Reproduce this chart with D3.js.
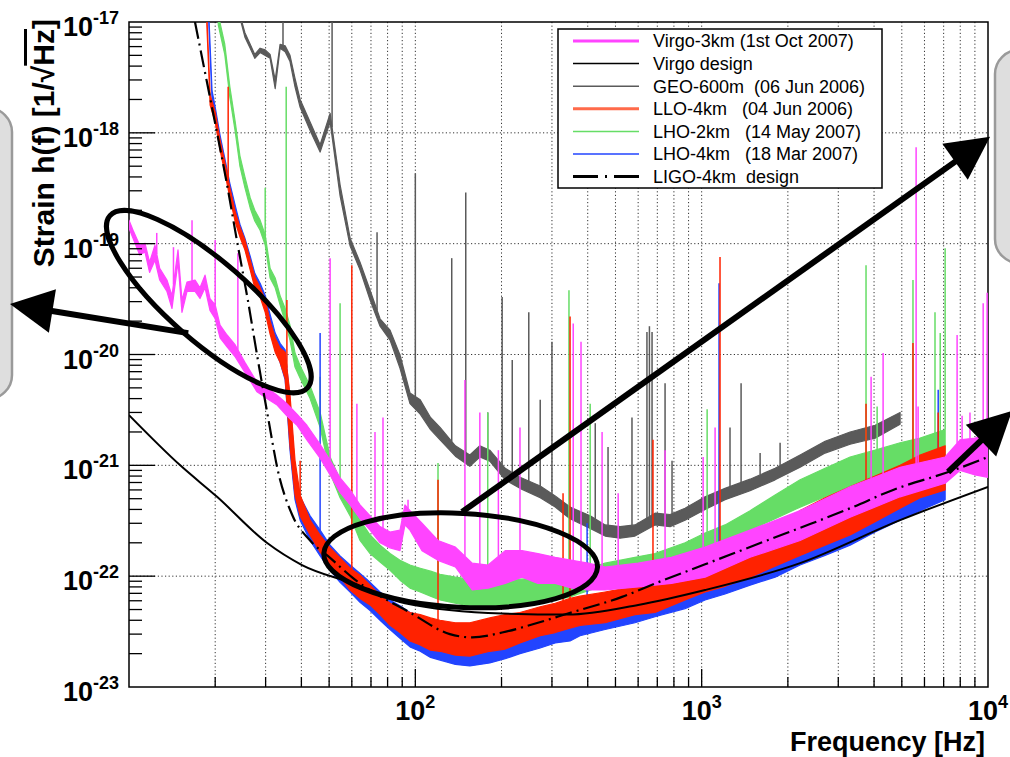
<!DOCTYPE html>
<html>
<head>
<meta charset="utf-8">
<script src="https://cdn.jsdelivr.net/npm/d3@7"></script>
<style>
  body { margin: 0; background: #fff; }
  svg { display: block; font-family: "Liberation Sans", Arial, Helvetica, sans-serif; }
</style>
</head>
<body>
<svg id="chart" width="1010" height="757"></svg>
<script>
/* ------------------ data (frequency Hz, strain 1/sqrt(Hz)) ------------------ */

// noise bands: [f, upper strain, lower strain]
const geoBand = [
  [24.4,1.16e-17,1.09e-17],[25.4,8.0e-18,7.3e-18],[26.5,6.3e-18,5.8e-18],[27.5,5.1e-18,4.7e-18],
  [28.7,5.8e-18,5.3e-18],[29.9,5.6e-18,5.0e-18],[31.1,5.1e-18,4.7e-18],[32.4,3.0e-18,2.5e-18],
  [33.7,6.3e-18,5.8e-18],[35.1,6.1e-18,5.4e-18],[36.5,5.0e-18,4.4e-18],[38.0,3.1e-18,2.6e-18],
  [39.6,2.0e-18,1.7e-18],[42.9,1.25e-18,1.05e-18],[46.5,7.8e-19,6.7e-19],[50.4,1.5e-18,1.25e-18],
  [54.6,3.4e-19,2.7e-19],[59.2,1.12e-19,9.5e-20],[64.1,6.8e-20,5.8e-20],[69.5,3.8e-20,3.1e-20],
  [75.3,2.1e-20,1.8e-20],[81.6,1.66e-20,1.35e-20],[88.4,9.9e-21,7.5e-21],[95.8,4.5e-21,3.6e-21],
  [104,3.9e-21,2.9e-21],[113,2.7e-21,2.1e-21],[122,2.2e-21,1.7e-21],[138,1.5e-21,1.21e-21],
  [155,1.24e-21,9.8e-22],[168,1.5e-21,1.19e-21],[182,1.37e-21,1.09e-21],[206,9.4e-22,7.4e-22],
  [232,7.8e-22,6.2e-22],[273,6.5e-22,5.1e-22],[308,5.3e-22,4.2e-22],[347,4.2e-22,3.3e-22],
  [408,3.5e-22,2.7e-22],[460,2.9e-22,2.3e-22],[519,2.8e-22,2.2e-22],[585,2.9e-22,2.3e-22],
  [687,3.7e-22,2.9e-22],[776,3.6e-22,2.8e-22],[875,4.1e-22,3.2e-22],[1028,5.2e-22,4.0e-22],
  [1207,6.2e-22,4.9e-22],[1476,7.5e-22,5.9e-22],[1805,9.4e-22,7.4e-22],[2207,1.24e-21,9.6e-22],
  [2698,1.65e-21,1.29e-21],[3299,2.0e-21,1.55e-21],[4035,2.3e-21,1.76e-21],[4932,3.0e-21,2.35e-21]
];

const lho2Band = [
  [20.5,1.16e-17,9.4e-18],[21.6,6.3e-18,5.1e-18],[22.5,2.6e-18,2.1e-18],[23.5,1.25e-18,1.02e-18],
  [24.4,6.2e-19,5.0e-19],[25.4,4.0e-19,3.2e-19],[26.5,2.6e-19,2.1e-19],[27.5,2.0e-19,1.6e-19],
  [28.7,1.63e-19,1.32e-19],[29.9,1.2e-19,9.7e-20],[31.1,6.0e-20,4.9e-20],[32.4,4.9e-20,4.0e-20],
  [33.7,3.4e-20,2.8e-20],[35.1,2.6e-20,1.96e-20],[36.5,1.84e-20,1.35e-20],[38.0,1.03e-20,7.7e-21],
  [39.6,7.9e-21,6.1e-21],[42.9,5.2e-21,4.0e-21],[46.5,3.0e-21,2.2e-21],[50.4,1.19e-21,8.5e-22],
  [54.6,7.4e-22,5.1e-22],[59.2,5.2e-22,3.5e-22],[64.1,3.2e-22,2.1e-22],[69.5,2.35e-22,1.6e-22],
  [75.3,1.9e-22,1.34e-22],[81.6,1.6e-22,1.13e-22],[88.4,1.39e-22,9.2e-23],[95.8,1.26e-22,7.8e-23],
  [104,1.18e-22,7.2e-23],[113,1.11e-22,6.6e-23],[122,1.04e-22,6.1e-23],[138,9.8e-23,5.7e-23],
  [155,9.4e-23,5.4e-23],[182,9.2e-23,5.3e-23],[206,9.2e-23,5.3e-23],[232,9.4e-23,5.5e-23],
  [273,9.6e-23,5.8e-23],[308,9.8e-23,6.1e-23],[347,1.04e-22,6.5e-23],[376,1.11e-22,7.0e-23],
  [460,1.31e-22,8.3e-23],[585,1.48e-22,9.2e-23],[687,1.6e-22,9.8e-23],[875,2.0e-22,1.26e-22],
  [1028,2.45e-22,1.6e-22],[1207,2.9e-22,1.9e-22],[1476,3.9e-22,2.6e-22],[1805,5.4e-22,3.3e-22],
  [2207,7.4e-22,4.2e-22],[2698,9.4e-22,5.2e-22],[3299,1.19e-21,6.4e-22],[4035,1.37e-21,7.7e-22],
  [4932,1.6e-21,9.0e-22],[5794,1.76e-21,1.0e-21],[7085,2.1e-21,1.19e-21]
];

const lho4Band = [
  [19.0,1.16e-17,9.4e-18],[19.5,2.4e-18,2.0e-18],[20.0,1.71e-18,1.39e-18],[20.8,9.5e-19,7.8e-19],
  [21.6,5.9e-19,4.8e-19],[22.5,3.5e-19,2.9e-19],[23.5,2.2e-19,1.78e-19],[24.4,1.5e-19,1.22e-19],
  [25.4,1.12e-19,9.1e-20],[26.5,7.7e-20,6.3e-20],[27.5,5.4e-20,4.4e-20],[28.7,4.4e-20,3.6e-20],
  [29.9,3.4e-20,2.6e-20],[31.1,2.3e-20,1.66e-20],[32.4,1.56e-20,1.1e-20],[33.7,1.26e-20,8.5e-21],
  [35.1,1.1e-20,5.9e-21],[36.5,3.9e-21,1.37e-21],[38.0,9.0e-22,4.9e-22],[39.6,5.2e-22,3.2e-22],
  [42.9,3.5e-22,2.1e-22],[46.5,2.6e-22,1.52e-22],[50.4,1.9e-22,1.13e-22],[54.6,1.52e-22,8.8e-23],
  [59.2,1.26e-22,7.2e-23],[64.1,1.06e-22,5.8e-23],[69.5,8.8e-23,4.9e-23],[75.3,7.2e-23,4.0e-23],
  [81.6,6.1e-23,3.3e-23],[88.4,5.4e-23,2.75e-23],[95.8,4.7e-23,2.3e-23],[104,4.4e-23,2.1e-23],
  [113,4.0e-23,1.85e-23],[122,3.8e-23,1.75e-23],[138,3.6e-23,1.6e-23],[155,3.5e-23,1.55e-23],
  [182,3.7e-23,1.65e-23],[206,4.0e-23,1.8e-23],[232,4.4e-23,2.0e-23],[273,4.7e-23,2.25e-23],
  [308,5.1e-23,2.5e-23],[347,5.6e-23,2.6e-23],[376,6.1e-23,2.9e-23],[460,6.6e-23,3.3e-23],
  [585,7.5e-23,3.8e-23],[687,8.1e-23,4.3e-23],[875,9.6e-23,5.1e-23],[1028,1.09e-22,6.1e-23],
  [1207,1.26e-22,6.9e-23],[1476,1.54e-22,8.3e-23],[1805,1.9e-22,9.8e-23],[2207,2.45e-22,1.26e-22],
  [2698,3.1e-22,1.54e-22],[3299,3.8e-22,1.9e-22],[4035,4.7e-22,2.5e-22],[4932,6.0e-22,3.2e-22],
  [5794,7.1e-22,3.9e-22],[7085,9.4e-22,4.9e-22]
];

const lloBand = [
  [18.7,1.16e-17,9.4e-18],[19.2,2.2e-18,1.78e-18],[20.0,1.54e-18,1.25e-18],[20.8,8.6e-19,7.0e-19],
  [21.6,5.45e-19,4.4e-19],[22.5,3.2e-19,2.6e-19],[23.5,1.93e-19,1.57e-19],[24.4,1.41e-19,1.15e-19],
  [25.4,1.08e-19,8.8e-20],[26.5,7.1e-20,5.8e-20],[27.5,5.0e-20,4.0e-20],[28.7,4.0e-20,3.3e-20],
  [29.9,3.1e-20,2.4e-20],[31.1,2.0e-20,1.53e-20],[32.4,1.41e-20,1.05e-20],[33.7,1.14e-20,8.5e-21],
  [35.1,1.05e-20,6.1e-21],[36.5,4.3e-21,1.5e-21],[38.0,1.11e-21,5.4e-22],[39.6,5.4e-22,3.5e-22],
  [42.9,3.2e-22,2.35e-22],[46.5,2.35e-22,1.65e-22],[50.4,1.8e-22,1.26e-22],[54.6,1.46e-22,9.8e-23],
  [59.2,1.18e-22,7.5e-23],[64.1,1.02e-22,6.3e-23],[69.5,8.3e-23,5.5e-23],[75.3,6.7e-23,4.5e-23],
  [81.6,5.7e-23,3.6e-23],[88.4,5.1e-23,3.1e-23],[95.8,4.7e-23,2.6e-23],[104,4.5e-23,2.4e-23],
  [113,4.2e-23,2.15e-23],[122,4.0e-23,2.1e-23],[138,3.8e-23,1.94e-23],[155,3.8e-23,1.9e-23],
  [182,4.2e-23,2.1e-23],[206,4.5e-23,2.2e-23],[232,4.7e-23,2.5e-23],[273,5.3e-23,2.9e-23],
  [308,5.7e-23,3.1e-23],[347,6.3e-23,3.4e-23],[376,6.6e-23,3.6e-23],[460,7.2e-23,3.8e-23],
  [585,8.1e-23,4.5e-23],[687,8.6e-23,4.7e-23],[875,1.09e-22,6.1e-23],[1028,1.34e-22,7.2e-23],
  [1207,1.6e-22,8.1e-23],[1476,2.1e-22,9.8e-23],[1805,2.9e-22,1.23e-22],[2207,3.9e-22,1.54e-22],
  [2698,5.1e-22,1.9e-22],[3299,6.4e-22,2.35e-22],[4035,8.0e-22,3.1e-22],[4932,1.0e-21,4.1e-22],
  [5794,1.24e-21,5.1e-22],[7085,1.5e-21,6.0e-22]
];

const virgoBand = [
  [10.0,1.63e-19,1.38e-19],[10.33,1.32e-19,1.12e-19],[10.9,9.7e-20,7.9e-20],[11.37,1.01e-19,8.4e-20],
  [11.8,6.8e-20,5.5e-20],[12.32,9.7e-20,7.1e-20],[12.8,6.0e-20,4.7e-20],[13.57,4.7e-20,3.7e-20],
  [14.13,3.4e-20,2.6e-20],[14.83,8.8e-20,6.8e-20],[15.31,3.1e-20,2.4e-20],[15.94,4.5e-20,3.7e-20],
  [17.01,4.7e-20,3.7e-20],[17.7,4.0e-20,3.2e-20],[18.43,5.2e-20,4.0e-20],[19.18,3.2e-20,2.5e-20],
  [20.0,2.8e-20,2.1e-20],[20.8,1.84e-20,1.41e-20],[22.0,1.5e-20,1.17e-20],[23.5,1.22e-20,9.5e-21],
  [25.4,8.5e-21,6.9e-21],[28.0,5.6e-21,4.6e-21],[30.3,5.0e-21,4.0e-21],[32.9,4.3e-21,3.5e-21],
  [35.6,3.6e-21,2.8e-21],[38.6,2.9e-21,2.3e-21],[41.8,2.3e-21,1.7e-21],[46.5,1.55e-21,1.16e-21],
  [50.4,1.11e-21,8.2e-22],[54.6,7.7e-22,5.7e-22],[59.2,6.0e-22,4.4e-22],[64.1,4.4e-22,3.3e-22],
  [69.5,3.5e-22,2.6e-22],[75.3,2.8e-22,2.0e-22],[81.6,2.5e-22,1.8e-22],[88.4,2.6e-22,1.7e-22],
  [92.0,4.4e-22,2.9e-22],[95.8,3.9e-22,2.6e-22],[105.5,3.0e-22,1.7e-22],[120,2.1e-22,1.39e-22],
  [138,1.83e-22,1.21e-22],[158,1.31e-22,7.5e-23],[179.5,1.26e-22,7.8e-23],[206,1.7e-22,8.6e-23],
  [236,1.7e-22,9.8e-23],[268,1.6e-22,8.6e-23],[308,1.48e-22,8.6e-23],[353,1.39e-22,7.8e-23],
  [401,1.31e-22,7.5e-23],[460,1.21e-22,7.5e-23],[600,1.31e-22,8.0e-23],[784,1.48e-22,8.6e-23],
  [1028,1.83e-22,9.8e-23],[1476,2.6e-22,1.48e-22],[2207,3.9e-22,2.1e-22],[3299,6.4e-22,3.4e-22],
  [4932,9.6e-22,5.2e-22],[7085,1.19e-21,6.9e-22],[7991,1.7e-21,9.0e-22],[9015,1.76e-21,8.2e-22],
  [10000,1.95e-21,7.8e-22]
];

// spectral lines: [f, peak strain]
const geoLines = [
  [34.5,1e-17],[51.2,1e-17],[73.5,1.27e-19],[100,4.3e-19],[134,7.4e-20],[150,2.9e-19],[179,3.0e-21],
  [201,3.3e-20],[218,8.9e-21],[249,2.4e-20],[273,3.9e-21],[300,1.3e-20],[425,2.4e-21],[471,1.46e-21],
  [571,2.7e-21],[644,1.6e-20],[657,1.8e-20],[671,1.6e-20],[745,5.5e-21],[788,1.1e-21],[1256,2.2e-21],
  [1373,5.5e-21],[1600,1.29e-21],[1879,1.6e-21]
];
const lho2Lines = [
  [29.9,3.2e-19],[35.4,2.6e-18],[46.5,6.3e-21],[54.6,2.9e-20],[120,1.05e-21],[179,3.0e-21],[344,3.8e-20],
  [408,3.6e-21],[1045,3.2e-21],[3750,6.4e-20],[4100,3.4e-21],[5470,4.7e-20],[6530,2.4e-20],[6810,1.56e-20],
  [7085,9.1e-20]
];
const lho4Lines = [[46.5,1.56e-20],[398,3.0e-22],[1150,4.4e-20],[6700,4.8e-21]];
const lloLines = [
  [22.2,2.6e-18],[35.6,3.1e-20],[39.6,1.1e-21],[60,6.4e-20],[120,7.4e-22],[328,5.6e-22],[347,2.2e-20],
  [676,1.7e-21],[1159,7.6e-20],[3750,3.6e-21],[5470,1.27e-20],[6700,3.0e-21]
];
const virgoLines = [
  [12.5,1.25e-19],[14.3,9.3e-20],[16.6,1.63e-19],[20.0,1.08e-19],[24.0,8.2e-20],[50.4,7.4e-20],
  [62.5,3.6e-21],[72.3,2.0e-21],[77.1,2.7e-21],[94.3,4.9e-22],[149,5.9e-21],[168,3.0e-21],[195,1.37e-21],
  [232,2.2e-21],[356,1.9e-20],[379,1.3e-20],[449,2.0e-21],[511,5.6e-22],[745,1.37e-21],[1012,1.19e-21],
  [1114,2.2e-21],[3906,6.3e-21],[4302,1.03e-20],[5610,7.4e-19],[5700,3.4e-21],[7800,1.5e-20],
  [8120,2.8e-21],[8650,3.0e-21],[9620,2.9e-20],[9930,3.6e-20]
];

// design curves: [f, strain]
const virgoDesign = [
  [10,2.84e-21],[15.1,1.0e-21],[20.3,5.2e-22],[30.3,2.0e-22],[40.2,1.26e-22],[60.6,8.6e-23],[92,5.7e-23],
  [201,4.6e-23],[341,4.5e-23],[600,5.5e-23],[1028,7.5e-23],[2207,1.31e-22],[4932,3.2e-22],[10000,6.4e-22]
];
const ligoDesign = [
  [17.0,1.0e-17],[18.7,2.9e-18],[20.3,1.0e-18],[22.0,3.4e-19],[23.8,1.08e-19],[26.0,3.1e-20],[28.2,8.9e-21],
  [30.6,2.7e-21],[33.1,9.0e-22],[37.1,3.6e-22],[42.9,2.1e-22],[50.4,1.46e-22],[60.6,9.6e-23],[95.8,4.7e-23],
  [132,3.0e-23],[158,2.8e-23],[201,3.1e-23],[268,3.8e-23],[341,4.6e-23],[527,6.5e-23],[704,8.8e-23],
  [1028,1.28e-22],[1692,2.1e-22],[2391,2.95e-22],[3299,4.1e-22],[4662,6.0e-22],[7551,9.0e-22],[10000,1.19e-21]
];

const legendNames = [
  "Virgo-3km (1st Oct 2007)", "Virgo design", "GEO-600m  (06 Jun 2006)", "LLO-4km   (04 Jun 2006)",
  "LHO-2km   (14 May 2007)", "LHO-4km   (18 Mar 2007)", "LIGO-4km  design"
];
const xLabelExps = [["2",100],["3",1000],["4",10000]];
const yLabelExps = [["-17",1e-17],["-18",1e-18],["-19",1e-19],["-20",1e-20],["-21",1e-21],["-22",1e-22],["-23",1e-23]];

// annotation anchors in data space
const ellipses = [
  { f: 19.0, h: 3.0e-20, rx: 131, ry: 40, rot: 41 },
  { f: 144, h: 1.39e-22, rx: 137, ry: 47, rot: 3 }
];
const arrows = [
  { from: [16.1, 1.56e-20], to: [3.84, 2.85e-20] },
  { from: [145.6, 3.8e-22], to: [10170, 9.2e-19] },
  { from: [7256, 8.7e-22], to: [12130, 3.1e-21] }
];

/* ------------------ setup ------------------ */

const svg = d3.select("#chart");
const plot = { left: 129, right: 988, top: 22, bottom: 687 };

const x = d3.scaleLog().domain([10, 1e4]).range([plot.left, plot.right]);
const y = d3.scaleLog().domain([1e-23, 1e-17]).range([plot.bottom, plot.top]);

svg.append("defs").append("clipPath").attr("id", "clip")
  .append("rect")
  .attr("x", plot.left).attr("y", plot.top)
  .attr("width", plot.right - plot.left).attr("height", plot.bottom - plot.top);

const colors = {
  virgo: "#ff44ff", geo: "#5a5a5a", llo: "#ff2200", lho2: "#66dd66", lho4: "#2244ff"
};

/* ------------------ grid + frame ------------------ */

const xTicks = [];
[10, 100, 1000].forEach(d => { for (let k = 1; k < 10; k++) xTicks.push(d * k); });
const yDecades = [1e-23, 1e-22, 1e-21, 1e-20, 1e-19, 1e-18, 1e-17];
const yTicks = [];
yDecades.slice(0, -1).forEach(d => { for (let k = 1; k < 10; k++) yTicks.push(d * k); });

const grid = svg.append("g")
  .attr("stroke", "#333").attr("stroke-width", 1).attr("stroke-dasharray", "1.2,2.4");

grid.selectAll(".gx").data(xTicks.filter(v => v > 10)).join("line")
  .attr("x1", d => x(d)).attr("x2", d => x(d))
  .attr("y1", plot.top).attr("y2", plot.bottom);

grid.selectAll(".gy").data(yDecades.slice(1, -1)).join("line")
  .attr("x1", plot.left).attr("x2", plot.right)
  .attr("y1", d => y(d)).attr("y2", d => y(d));

svg.append("rect")
  .attr("x", plot.left).attr("y", plot.top)
  .attr("width", plot.right - plot.left).attr("height", plot.bottom - plot.top)
  .attr("fill", "none").attr("stroke", "#000").attr("stroke-width", 1.5);

/* ------------------ curves ------------------ */

const data = svg.append("g").attr("clip-path", "url(#clip)");

function topAt(band, f) {
  const i = d3.bisector(d => d[0]).left(band, f);
  if (i <= 0) return band[0][1];
  if (i >= band.length) return band[band.length - 1][1];
  const a = band[i - 1], b = band[i];
  const t = (Math.log(f) - Math.log(a[0])) / (Math.log(b[0]) - Math.log(a[0]));
  return Math.exp(Math.log(a[1]) + t * (Math.log(b[1]) - Math.log(a[1])));
}

function drawSeries(band, lines, color) {
  data.append("path").datum(band)
    .attr("d", d3.area().x(d => x(d[0])).y0(d => y(d[2])).y1(d => y(d[1])))
    .attr("fill", color).attr("stroke", color)
    .attr("stroke-width", 1.2).attr("stroke-linejoin", "round");

  data.append("g").selectAll("line").data(lines).join("line")
    .attr("x1", d => x(d[0])).attr("x2", d => x(d[0]))
    .attr("y1", d => y(topAt(band, d[0]))).attr("y2", d => y(d[1]))
    .attr("stroke", color).attr("stroke-width", 1.5);
}

drawSeries(geoBand, geoLines, colors.geo);
drawSeries(lho2Band, lho2Lines, colors.lho2);
drawSeries(lho4Band, lho4Lines, colors.lho4);
drawSeries(lloBand, lloLines, colors.llo);
drawSeries(virgoBand, virgoLines, colors.virgo);

const line = d3.line().x(d => x(d[0])).y(d => y(d[1])).curve(d3.curveMonotoneX);

data.append("path").datum(virgoDesign)
  .attr("d", line).attr("fill", "none")
  .attr("stroke", "#000").attr("stroke-width", 2);

data.append("path").datum(ligoDesign)
  .attr("d", line).attr("fill", "none")
  .attr("stroke", "#000").attr("stroke-width", 2.2)
  .attr("stroke-dasharray", "17,5,2,5");

/* ------------------ axes ------------------ */

const ticks = svg.append("g").attr("stroke", "#000").attr("stroke-width", 1.3);

ticks.selectAll(".ty").data(yTicks.filter(v => v > 1e-23)).join("line")
  .attr("x1", plot.left)
  .attr("x2", d => plot.left + (yDecades.includes(d) ? 26 : 13))
  .attr("y1", d => y(d)).attr("y2", d => y(d));

ticks.selectAll(".tx").data(xTicks.filter(v => v > 10)).join("line")
  .attr("x1", d => x(d)).attr("x2", d => x(d))
  .attr("y1", plot.bottom)
  .attr("y2", d => plot.bottom - ([100, 1000].includes(d) ? 18 : 10));

const labels = svg.append("g").attr("font-weight", "bold").attr("fill", "#000");

yLabelExps.forEach(([e, v]) => {
  const t = labels.append("text")
    .attr("x", 119).attr("y", y(v) + 14)
    .attr("text-anchor", "end").attr("font-size", 27);
  t.append("tspan").text("10");
  t.append("tspan").attr("font-size", 18).attr("dy", -12).text(e);
});

xLabelExps.forEach(([e, v]) => {
  const t = labels.append("text")
    .attr("x", x(v)).attr("y", 720)
    .attr("text-anchor", "middle").attr("font-size", 27);
  t.append("tspan").text("10");
  t.append("tspan").attr("font-size", 18).attr("dy", -12).text(e);
});

labels.append("text")
  .attr("x", 985).attr("y", 751)
  .attr("text-anchor", "end").attr("font-size", 27)
  .text("Frequency [Hz]");

const yt = labels.append("text")
  .attr("transform", "translate(54,19) rotate(-90)")
  .attr("text-anchor", "end").attr("font-size", 30);
yt.append("tspan").text("Strain h(f) [1/√");
yt.append("tspan").style("text-decoration", "overline").text("Hz");
yt.append("tspan").text("]");

/* ------------------ legend ------------------ */

const legendStyle = [
  { color: colors.virgo, w: 3 },
  { color: "#000", w: 1.5 },
  { color: colors.geo, w: 1.5 },
  { color: "#ff6a4a", w: 3 },
  { color: colors.lho2, w: 1.5 },
  { color: colors.lho4, w: 1.5 },
  { color: "#000", w: 3, dash: "25,7,2,7" }
];

const lg = svg.append("g");
lg.append("rect")
  .attr("x", 558).attr("y", 29).attr("width", 324).attr("height", 159)
  .attr("fill", "#fff").attr("stroke", "#000").attr("stroke-width", 1.5);

legendNames.forEach((name, i) => {
  const ry = 41 + i * 22.6;
  const s = legendStyle[i];
  lg.append("line")
    .attr("x1", 573).attr("x2", 639).attr("y1", ry).attr("y2", ry)
    .attr("stroke", s.color).attr("stroke-width", s.w)
    .attr("stroke-dasharray", s.dash || null);
  lg.append("text")
    .attr("x", 653).attr("y", ry).attr("dy", "0.36em")
    .attr("font-size", 18).style("white-space", "pre")
    .text(name);
});

/* ------------------ annotations ------------------ */

const ann = svg.append("g");

ann.append("rect")
  .attr("x", -40).attr("y", 108).attr("width", 52).attr("height", 291).attr("rx", 24)
  .attr("fill", "#dedede").attr("stroke", "#9a9a9a").attr("stroke-width", 2.5);
ann.append("rect")
  .attr("x", 995).attr("y", 50).attr("width", 60).attr("height", 213).attr("rx", 24)
  .attr("fill", "#dedede").attr("stroke", "#9a9a9a").attr("stroke-width", 2.5);

ellipses.forEach(e => {
  ann.append("ellipse")
    .attr("rx", e.rx).attr("ry", e.ry)
    .attr("transform", `translate(${x(e.f)},${y(e.h)}) rotate(${e.rot})`)
    .attr("fill", "none").attr("stroke", "#000").attr("stroke-width", 5);
});

arrows.forEach(a => {
  const x0 = x(a.from[0]), y0 = y(a.from[1]);
  const x1 = x(a.to[0]), y1 = y(a.to[1]);
  const len = Math.hypot(x1 - x0, y1 - y0);
  const ux = (x1 - x0) / len, uy = (y1 - y0) / len;
  const bx = x1 - ux * 43, by = y1 - uy * 43;
  ann.append("line")
    .attr("x1", x0).attr("y1", y0).attr("x2", bx + ux * 2).attr("y2", by + uy * 2)
    .attr("stroke", "#000").attr("stroke-width", 6);
  ann.append("polygon")
    .attr("points", [
      [x1, y1],
      [bx - uy * 22, by + ux * 22],
      [bx + uy * 22, by - ux * 22]
    ].map(p => p.join(",")).join(" "))
    .attr("fill", "#000");
});
</script>
</body>
</html>
